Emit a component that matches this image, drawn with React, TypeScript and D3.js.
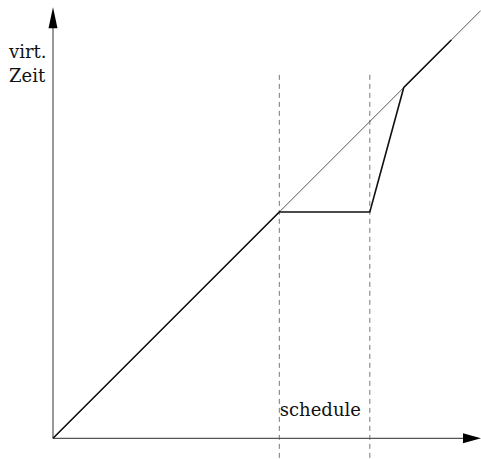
import React from 'react'
import { scaleLinear, line } from 'd3'

// virtual time vs. real time, in abstract units
const idealLine: [number, number][] = [[0, 0], [9.45, 9.45]]
const virtualTime: [number, number][] = [[0, 0], [5, 5], [7, 5], [7.75, 7.75], [8.8, 8.8]]
const scheduleMarks = [5, 7]
const axisLabels = ['virt.', 'Zeit']
const scheduleLabel = 'schedule'

const W = 481
const H = 459
const origin = { x: 53, y: 438.3 }
const unit = 45.26

function App() {
  const x = scaleLinear().domain([0, 1]).range([origin.x, origin.x + unit])
  const y = scaleLinear().domain([0, 1]).range([origin.y, origin.y - unit])

  const path = line<[number, number]>()
    .x(d => x(d[0]))
    .y(d => y(d[1]))

  const xEnd = 481
  const yEnd = 7.3
  const font = 'DejaVu Serif, serif'

  return (
    <svg width={W} height={H} style={{ position: 'absolute', left: 0, top: 0, background: '#fff' }}>
      {/* dashed schedule markers */}
      {scheduleMarks.map(m => (
        <line key={m} x1={x(m)} x2={x(m)} y1={y(8.03)} y2={H}
          stroke="#777" strokeWidth={1} strokeDasharray="5,4" />
      ))}

      {/* axes */}
      <line x1={origin.x} y1={origin.y} x2={xEnd - 17} y2={origin.y} stroke="#555" strokeWidth={1.2} />
      <path d={`M${xEnd},${origin.y} L${xEnd - 18},${origin.y - 5} L${xEnd - 18},${origin.y + 5} Z`} fill="#000" />
      <line x1={origin.x} y1={origin.y} x2={origin.x} y2={yEnd + 18} stroke="#555" strokeWidth={1.2} />
      <path d={`M${origin.x},${yEnd} L${origin.x - 4.5},${yEnd + 21} L${origin.x + 4.5},${yEnd + 21} Z`} fill="#000" />

      {/* ideal line */}
      <path d={path(idealLine) ?? ''} fill="none" stroke="#444" strokeWidth={0.9} />
      {/* virtual time */}
      <path d={path(virtualTime) ?? ''} fill="none" stroke="#111" strokeWidth={1.6} strokeLinejoin="miter" />

      {/* labels */}
      <g style={{ fontFamily: font }} fill="#111">
        <text x={9} y={58} fontSize={18}>{axisLabels[0]}</text>
        <text x={9} y={82} fontSize={18}>{axisLabels[1]}</text>
        <text x={x(scheduleMarks[0]) + 0.5} y={415.7} fontSize={18}>{scheduleLabel}</text>
      </g>
    </svg>
  )
}

export default App
